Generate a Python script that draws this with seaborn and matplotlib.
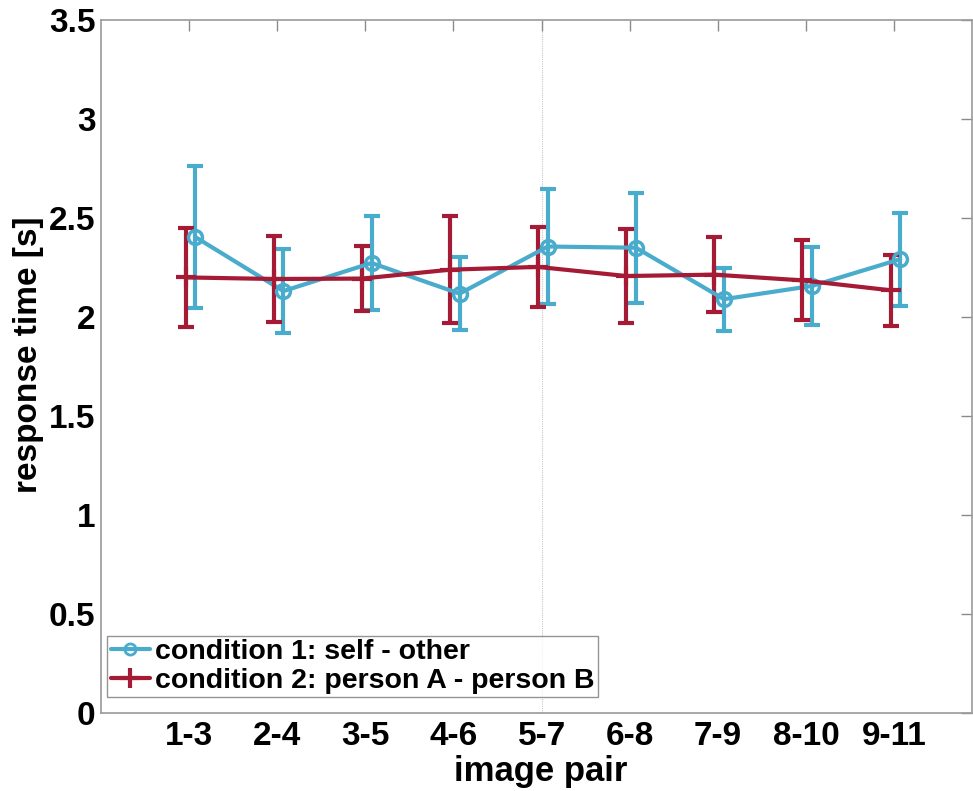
import numpy as np
import pandas as pd
import matplotlib
matplotlib.use("Agg")
import matplotlib.pyplot as plt
import seaborn as sns
from matplotlib.lines import Line2D

categories = ["1-3", "2-4", "3-5", "4-6", "5-7", "6-8", "7-9", "8-10", "9-11"]
cond1_mean = [2.404, 2.131, 2.273, 2.118, 2.356, 2.350, 2.090, 2.157, 2.292]
cond1_err = [0.360, 0.212, 0.239, 0.185, 0.292, 0.278, 0.160, 0.198, 0.235]
cond2_mean = [2.200, 2.192, 2.194, 2.239, 2.253, 2.207, 2.214, 2.185, 2.135]
cond2_err = [0.252, 0.217, 0.166, 0.270, 0.202, 0.238, 0.190, 0.202, 0.180]
labels = ["condition 1: self - other", "condition 2: person A - person B"]

sns.set_style("white")
fam = ["Liberation Sans Narrow", "Liberation Sans", "DejaVu Sans"]
plt.rcParams["font.family"] = fam
plt.rcParams["font.weight"] = "bold"
plt.rcParams["text.color"] = "black"
plt.rcParams["axes.labelcolor"] = "black"
plt.rcParams["xtick.labelcolor"] = "black"
plt.rcParams["ytick.labelcolor"] = "black"

blue = "#4aaccc"
red = "#a51a35"

pos = np.arange(1, len(categories) + 1)
df = pd.DataFrame({
    "x": np.concatenate([pos + 0.07, pos - 0.04]),
    "y": cond1_mean + cond2_mean,
    "err": cond1_err + cond2_err,
    "cond": [labels[0]] * len(pos) + [labels[1]] * len(pos),
})

fig = plt.figure(figsize=(9.73, 7.91), dpi=100)
ax = fig.add_axes([0.1038, 0.0986, 0.8952, 0.8761])

ax.axvline(5, color="#c8c8c8", lw=0.8, ls=(0, (1, 1)), zorder=0)

for lab, col in [(labels[0], blue), (labels[1], red)]:
    d = df[df["cond"] == lab]
    ax.errorbar(d["x"], d["y"], yerr=d["err"], fmt="none", ecolor=col,
                elinewidth=3, capsize=6, capthick=3, zorder=2)

sns.lineplot(data=df, x="x", y="y", hue="cond",
             palette={labels[0]: blue, labels[1]: red},
             lw=3, ax=ax, zorder=3, legend=False)
for ln in ax.get_lines():
    c = matplotlib.colors.to_hex(ln.get_color())
    if c == matplotlib.colors.to_hex(blue):
        ln.set_marker("o"); ln.set_markersize(10); ln.set_markerfacecolor("none")
        ln.set_markeredgecolor(blue); ln.set_markeredgewidth(2.5)
    elif c == matplotlib.colors.to_hex(red):
        ln.set_marker("+"); ln.set_markersize(14); ln.set_markeredgewidth(3)
        ln.set_markeredgecolor(red)

handles = [Line2D([0], [0], color=blue, lw=3, marker="o", markersize=8,
                  markerfacecolor="none", markeredgewidth=2),
           Line2D([0], [0], color=red, lw=3, marker="+", markersize=14,
                  markeredgewidth=3)]
leg = ax.legend(handles, labels, loc="lower left", bbox_to_anchor=(0.007, 0.023),
                prop={"family": fam, "weight": "bold", "size": 20.5},
                frameon=True, fancybox=False, edgecolor="#7a7a7a",
                handlelength=1.4, handletextpad=0.15, borderpad=0.12,
                labelspacing=0.08, borderaxespad=0)
leg.get_frame().set_linewidth(1)

ax.set_xlim(0, 9.885)
ax.set_ylim(0, 3.5)
ax.set_xticks(pos)
ax.set_xticklabels(categories)
ax.set_yticks(np.arange(0, 3.51, 0.5))
ax.set_yticklabels(["0", "0.5", "1", "1.5", "2", "2.5", "3", "3.5"])
ax.tick_params(axis="both", direction="in", length=8, width=1, color="#8a8a8a",
               labelsize=24, top=True, right=True)
ax.tick_params(axis="x", pad=6)
ax.tick_params(axis="y", pad=4)
for t in ax.get_xticklabels() + ax.get_yticklabels():
    t.set_fontweight("bold")
for s in ax.spines.values():
    s.set_color("#9a9a9a"); s.set_linewidth(1.2)
ax.set_xlabel("image pair", fontsize=25, fontweight="bold")
ax.xaxis.set_label_coords(0.505, -0.06)
ax.set_ylabel("response time [s]", fontsize=24, fontweight="bold")
ax.yaxis.set_label_coords(-0.066, 0.517)

fig.savefig("out.png", dpi=100)
